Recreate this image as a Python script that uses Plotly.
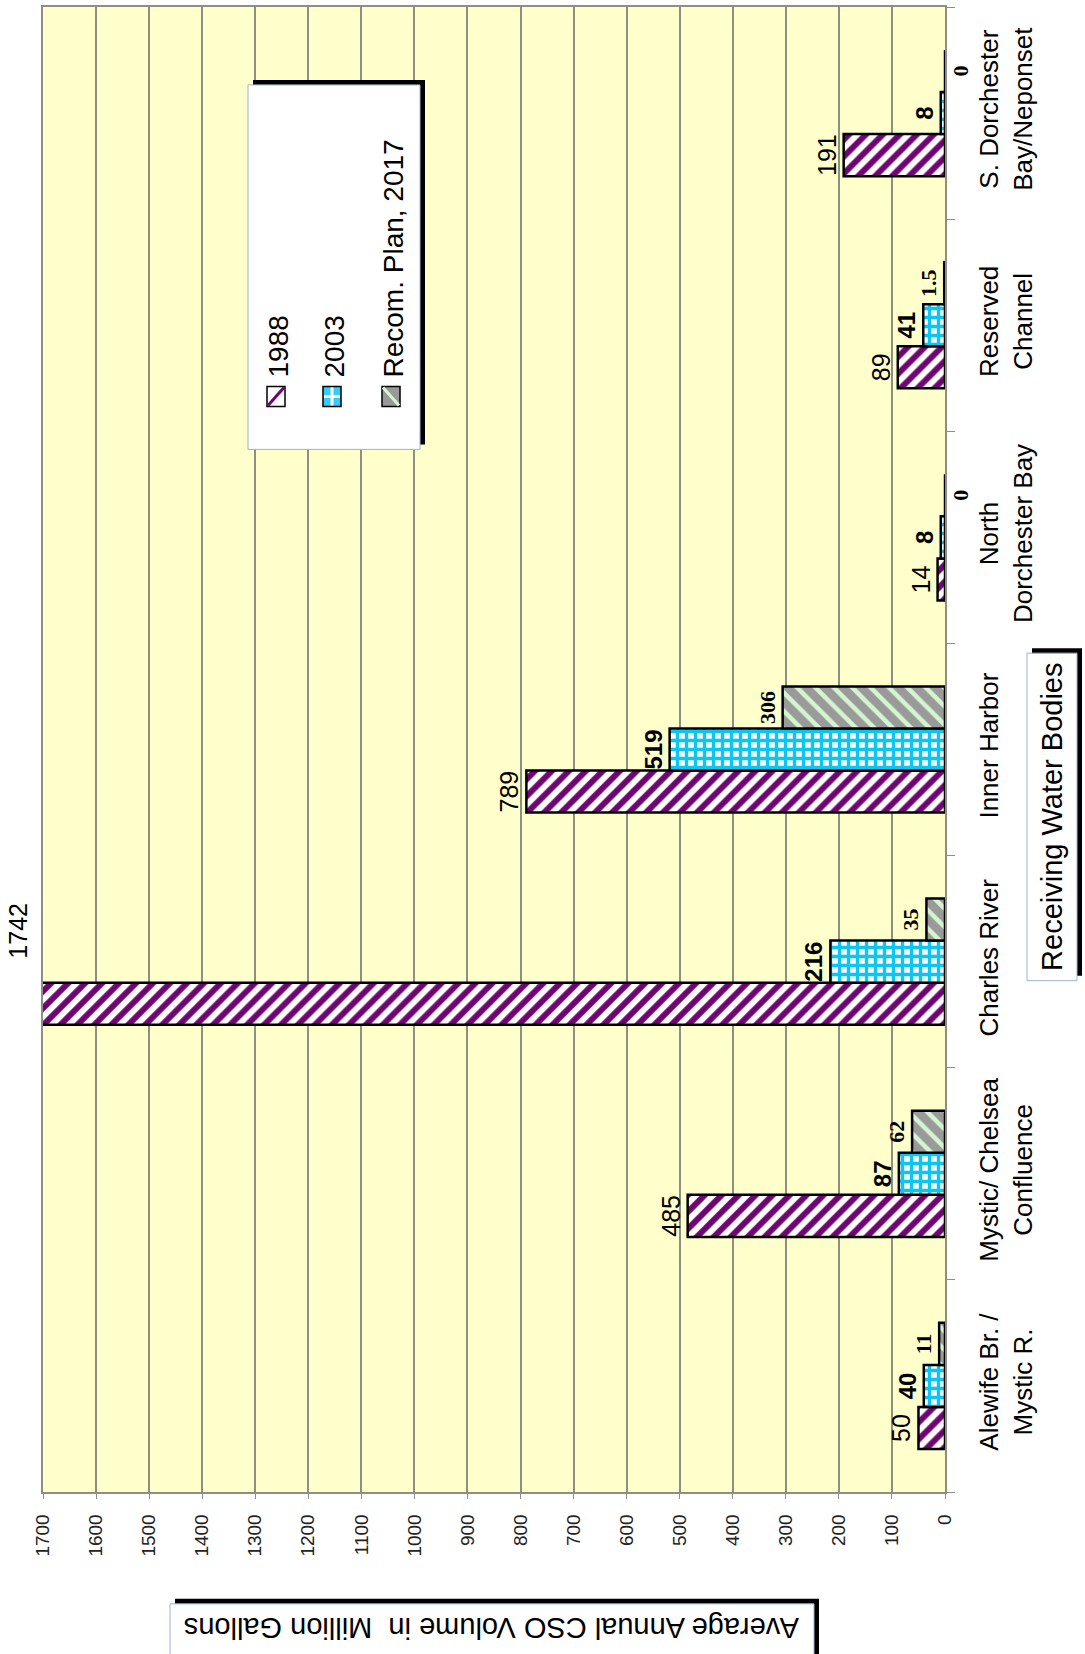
import plotly.graph_objects as go

# Receiving water bodies (bottom to top on the category axis)
categories = [
    "Alewife Br. /<br>Mystic R.",
    "Mystic/ Chelsea<br>Confluence",
    "Charles River",
    "Inner Harbor",
    "North<br>Dorchester Bay",
    "Reserved<br>Channel",
    "S. Dorchester<br>Bay/Neponset",
]

# Average annual CSO volume, million gallons
vol_1988 = [50, 485, 1742, 789, 14, 89, 191]
vol_2003 = [40, 87, 216, 519, 8, 41, 8]
vol_2017 = [11, 62, 35, 306, 0, 1.5, 0]

series_names = ["1988", "2003", "Recom. Plan, 2017"]
x_ticks = list(range(0, 1701, 100))
X_MAX = 1700

SANS = "Liberation Sans, Arial, sans-serif"
SERIF = "Liberation Serif, Times New Roman, serif"

# plot-area pixel frame, used only for decorations placed in paper space
W, H = 1085, 1654
PL, PR, PT, PB = 43, 945, 5, 1492


def px(x):
    return (x - PL) / (PR - PL)


def py(y):
    return (PB - y) / (PB - PT)


def fmt(v):
    return f"{v:g}"


fig = go.Figure()

# 1988: purple diagonal hatch; values past the axis max get an edge label instead
fig.add_trace(go.Bar(
    name=series_names[0], y=categories, x=vol_1988, orientation="h",
    marker=dict(color="white", line=dict(color="black", width=2.5),
                pattern=dict(shape="/", fgcolor="#6E0572", bgcolor="white",
                             size=12, solidity=0.5, fgopacity=1)),
    text=[fmt(v) if v <= X_MAX else "" for v in vol_1988],
    textposition="outside", textangle=-90, constraintext="none",
    textfont=dict(family=SANS, size=25, color="black"),
    cliponaxis=True,
))

# 2003: cyan grid
fig.add_trace(go.Bar(
    name=series_names[1], y=categories, x=vol_2003, orientation="h",
    marker=dict(color="white", line=dict(color="black", width=2.5),
                pattern=dict(shape="+", fgcolor="#10C4F0", bgcolor="#F4FDFF",
                             size=9, solidity=0.6, fgopacity=1)),
    text=[fmt(v) for v in vol_2003],
    textposition="outside", textangle=-90, constraintext="none",
    textfont=dict(family=SANS, size=24, color="black", weight="bold"),
    cliponaxis=False,
))

# Recommended plan 2017: gray with pale green diagonal stripes
fig.add_trace(go.Bar(
    name=series_names[2], y=categories, x=vol_2017, orientation="h",
    marker=dict(color="#999999", line=dict(color="black", width=2.5),
                pattern=dict(shape="\\", fgcolor="#D4F5D0", bgcolor="#9A9A9A",
                             size=13, solidity=0.35, fgopacity=1)),
    text=[fmt(v) for v in vol_2017],
    textposition="outside", textangle=-90, constraintext="none",
    textfont=dict(family=SERIF, size=22, color="black", weight="bold"),
    cliponaxis=False,
))

annotations = []
shapes = []

# labels for bars that run past the axis maximum sit at the plot edge
for cat, v in zip(categories, vol_1988):
    if v > X_MAX:
        annotations.append(dict(
            text=fmt(v), xref="paper", x=0, xanchor="right", xshift=-9,
            yref="y", y=cat, yanchor="middle", yshift=31,
            textangle=-90, showarrow=False,
            font=dict(family=SANS, size=25, color="black")))


def shadow_box(x0, y0, x1, y1, off=5, border="#9DB0D8"):
    shapes.append(dict(type="rect", xref="paper", yref="paper",
                       x0=px(x0 + off), x1=px(x1 + off), y0=py(y0 - off), y1=py(y1 - off),
                       fillcolor="black", line=dict(width=0), layer="above"))
    shapes.append(dict(type="rect", xref="paper", yref="paper",
                       x0=px(x0), x1=px(x1), y0=py(y0), y1=py(y1),
                       fillcolor="white", line=dict(color=border, width=1), layer="above"))


# legend box
shadow_box(248, 83, 420, 448)
swatch_specs = [
    (267, "white", ("#6E0572", "/")),
    (323, "#33CCFF", ("white", "+")),
    (382, "#999999", ("#D4F5D0", "\\")),
]
for (sx, fill, (lc, kind)), name in zip(swatch_specs, series_names):
    x0, x1, y0, y1 = sx, sx + 18, 385, 405
    shapes.append(dict(type="rect", xref="paper", yref="paper",
                       x0=px(x0), x1=px(x1), y0=py(y0), y1=py(y1),
                       fillcolor=fill, line=dict(color="black", width=1.5), layer="above"))
    if kind == "/":
        segs = [((x0 + 1, y1 - 1), (x1 - 1, y0 + 1))]
    elif kind == "\\":
        segs = [((x0 + 1, y0 + 1), (x1 - 1, y1 - 1))]
    else:
        segs = [(((x0 + x1) / 2, y0 + 1), ((x0 + x1) / 2, y1 - 1)),
                ((x0 + 1, (y0 + y1) / 2), (x1 - 1, (y0 + y1) / 2))]
    for (ax, ay), (bx, by) in segs:
        shapes.append(dict(type="line", xref="paper", yref="paper",
                           x0=px(ax), y0=py(ay), x1=px(bx), y1=py(by),
                           line=dict(color=lc, width=3), layer="above"))
    annotations.append(dict(
        text=name, xref="paper", yref="paper", x=px(sx + 11), y=py(378),
        xanchor="center", yanchor="bottom", textangle=-90, showarrow=False,
        font=dict(family=SANS, size=28, color="black")))

# category axis title box
shadow_box(1027, 652, 1077, 980)
annotations.append(dict(
    text="Receiving Water Bodies", xref="paper", yref="paper",
    x=px(1052), y=py(816), xanchor="center", yanchor="middle",
    textangle=-90, showarrow=False,
    font=dict(family=SANS, size=29, color="black")))

# value axis title box
shadow_box(170, 1604, 814, 1670)
annotations.append(dict(
    text="Average Annual CSO Volume in  Million Gallons", xref="paper", yref="paper",
    x=px(492), y=py(1628), xanchor="center", yanchor="middle",
    textangle=180, showarrow=False,
    font=dict(family=SANS, size=29, color="black")))

GRID = "#8E8E82"

fig.update_layout(
    width=W, height=H, autosize=False,
    margin=dict(l=PL, r=W - PR, t=PT, b=H - PB, pad=0),
    paper_bgcolor="white", plot_bgcolor="#FFFFCC",
    barmode="group", bargap=0.405, bargroupgap=0,
    showlegend=False,
    xaxis=dict(
        range=[X_MAX, 0], tickvals=x_ticks, ticktext=[str(t) for t in x_ticks],
        tickangle=-90, ticks="outside", ticklen=5, tickcolor=GRID,
        ticklabelstandoff=8,
        tickfont=dict(family=SANS, size=19, color="#222222"),
        showgrid=True, gridcolor=GRID, gridwidth=1.5,
        showline=True, linecolor=GRID, linewidth=1.5, mirror=True,
        zeroline=False, fixedrange=True,
    ),
    yaxis=dict(
        side="right", type="category", categoryorder="array", categoryarray=categories,
        tickangle=-90, ticks="outside", tickson="boundaries", ticklen=8, tickcolor=GRID,
        ticklabelstandoff=20,
        tickfont=dict(family=SANS, size=26, color="black"),
        showgrid=False, showline=True, linecolor=GRID, linewidth=1.5, mirror=True,
        fixedrange=True,
    ),
    shapes=shapes,
    annotations=annotations,
)

fig.write_html("out.html")
